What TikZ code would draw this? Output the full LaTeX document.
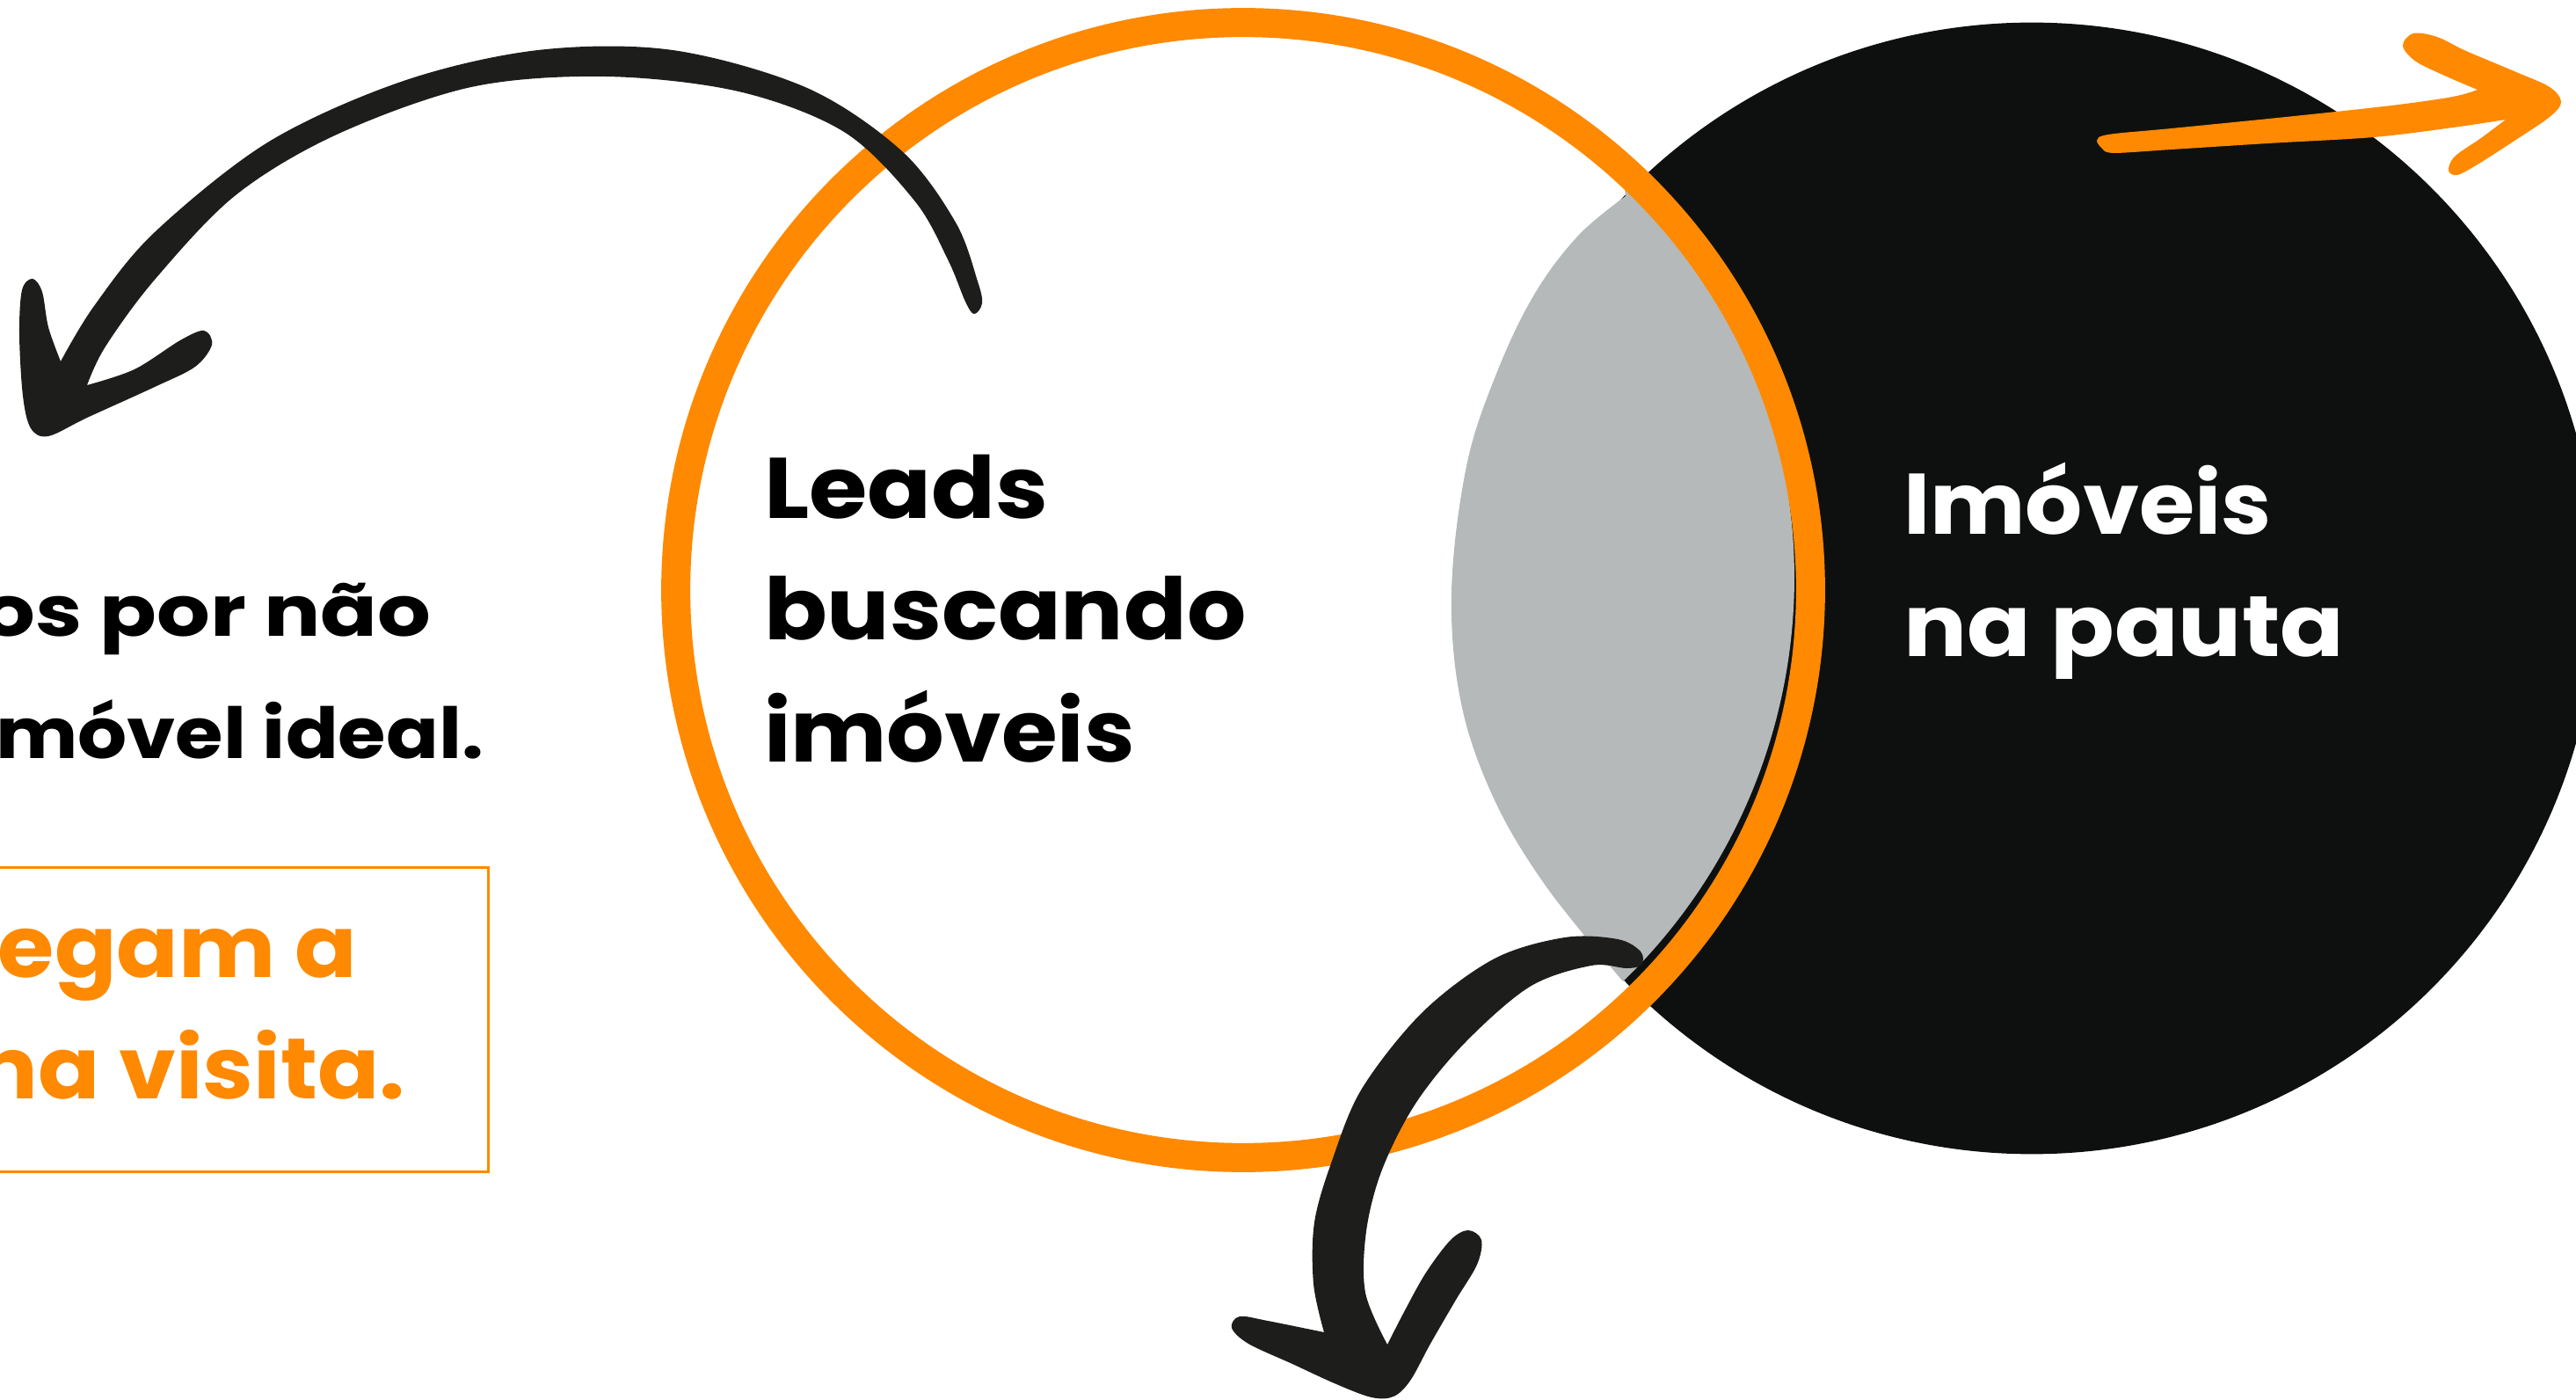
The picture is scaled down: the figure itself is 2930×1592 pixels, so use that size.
\documentclass[tikz,border=0pt]{standalone}
\usepackage{fontspec}
\newfontfamily\pop{Poppins}
\definecolor{brandorange}{RGB}{255,137,0}
\definecolor{inkblack}{RGB}{14,16,15}
\definecolor{brushblack}{RGB}{29,29,27}
\definecolor{lensgrey}{RGB}{181,185,186}
\newcommand{\wide}[2]{\scalebox{#1}[1]{#2}}
\begin{document}
\begin{tikzpicture}[x=0.01cm,y=-0.01cm,
  word/.style={font=\pop\bfseries\fontsize{27.8}{30}\selectfont,
    anchor=base west, inner sep=0pt, outer sep=0pt},
  note/.style={font=\pop\bfseries\fontsize{22.8}{26}\selectfont,
    anchor=base east, inner sep=0pt, outer sep=0pt},
  brush/.style={fill=brushblack},
  ring/.style={draw=brandorange, line width=0.33cm},
]
\useasboundingbox (0,0) rectangle (2930,1592);
\clip (0,0) rectangle (2930,1592);

% right set: properties on the agenda
\fill[inkblack] (2311,669) circle[radius=6.43cm];

% overlap of the two sets
\fill[lensgrey] plot[smooth, tension=0.6] coordinates {
  (1849,223) (1795,268) (1745,335) (1702,425) (1668,530)
  (1651,673) (1662,800) (1700,910) (1760,1010) (1846,1116)}
  arc[start angle=-46, end angle=46, radius=6.38cm] -- cycle;

% left set: leads looking for a property
\draw[ring] (1414,671) circle[radius=6.45cm];

% set labels
\node[word] (leadsA) at (869,590) {\wide{1.10}{Leads}};
\node[word] (leadsB) at (869,728) {\wide{1.082}{buscando}};
\node[word] (leadsC) at (869,867) {\wide{1.056}{imóveis}};
\node[word, text=white] (propA) at (2165,608) {\wide{1.048}{Imóveis}};
\node[word, text=white] (propB) at (2165,747) {\wide{1.095}{na pauta}};

% side notes
\node[note] (lostA) at (490,724) {\wide{1.19}{os por não}};
\node[note] (lostB) at (550,863) {\wide{1.1}{móvel ideal.}};
\draw[brandorange, line width=0.03cm] (-20,987) rectangle (555,1332);
\node[word, text=brandorange] (visitA) at (-2,1111) {\wide{1.065}{egam a}};
\node[word, text=brandorange, anchor=base east] (visitB) at (461,1249)
  {\wide{1.06}{na visita.}};

% brush arrow leaving the leads set to the left
\fill[brush]
  plot[smooth, tension=0.55] coordinates {
    (69,411) (107,348) (176,264) (306,161) (459,92) (612,57) (765,57)
    (918,100) (1026,172) (1087,253) (1112,320) (1117,345) (1108,357)
    (1098,343) (1078,295) (1040,228) (960,150) (840,104) (689,87)
    (536,99) (383,153) (268,222) (176,318) (120,394) (99,438)}
  -- plot[smooth, tension=0.55] coordinates {
    (99,438) (153,420) (205,387) (232,376) (241,392) (222,417)
    (176,440) (99,475) (55,496) (35,487) (26,450) (22,380)
    (25,330) (37,317) (48,332) (55,372) (69,411)}
  -- cycle;

% brush arrow dropping out of the overlap
\fill[brush]
  plot[smooth, tension=0.55] coordinates {
    (1506,1515) (1494,1460) (1495,1390) (1515,1320) (1549,1238)
    (1618,1151) (1700,1090) (1780,1066) (1840,1068) (1866,1082)
    (1867,1097) (1850,1101) (1810,1098) (1740,1122) (1666,1186)
    (1610,1255) (1572,1330) (1554,1400) (1553,1470) (1578,1529)}
  -- plot[smooth, tension=0.55] coordinates {
    (1578,1529) (1598,1490) (1622,1447) (1650,1410) (1670,1399)
    (1685,1410) (1680,1438) (1656,1478) (1627,1528) (1604,1570)
    (1585,1588) (1560,1589) (1520,1574) (1470,1551) (1420,1528)
    (1401,1510) (1410,1497) (1442,1502) (1506,1515)}
  -- cycle;

% orange brush arrow out of the properties set
\fill[brandorange]
  plot[smooth, tension=0.55] coordinates {
    (2392,170) (2385,160) (2398,153) (2470,146) (2600,133)
    (2720,120) (2790,110) (2818,102)}
  -- plot[smooth, tension=0.55] coordinates {
    (2818,102) (2785,88) (2748,70) (2733,52) (2745,38) (2772,42)
    (2805,58) (2862,82) (2900,99) (2913,116) (2900,133) (2860,160)
    (2818,187) (2795,199) (2785,194) (2792,178) (2822,157) (2850,136)}
  -- plot[smooth, tension=0.55] coordinates {
    (2850,136) (2790,145) (2700,156) (2580,163) (2470,170) (2405,174)
    (2392,170)}
  -- cycle;
\end{tikzpicture}
\end{document}
